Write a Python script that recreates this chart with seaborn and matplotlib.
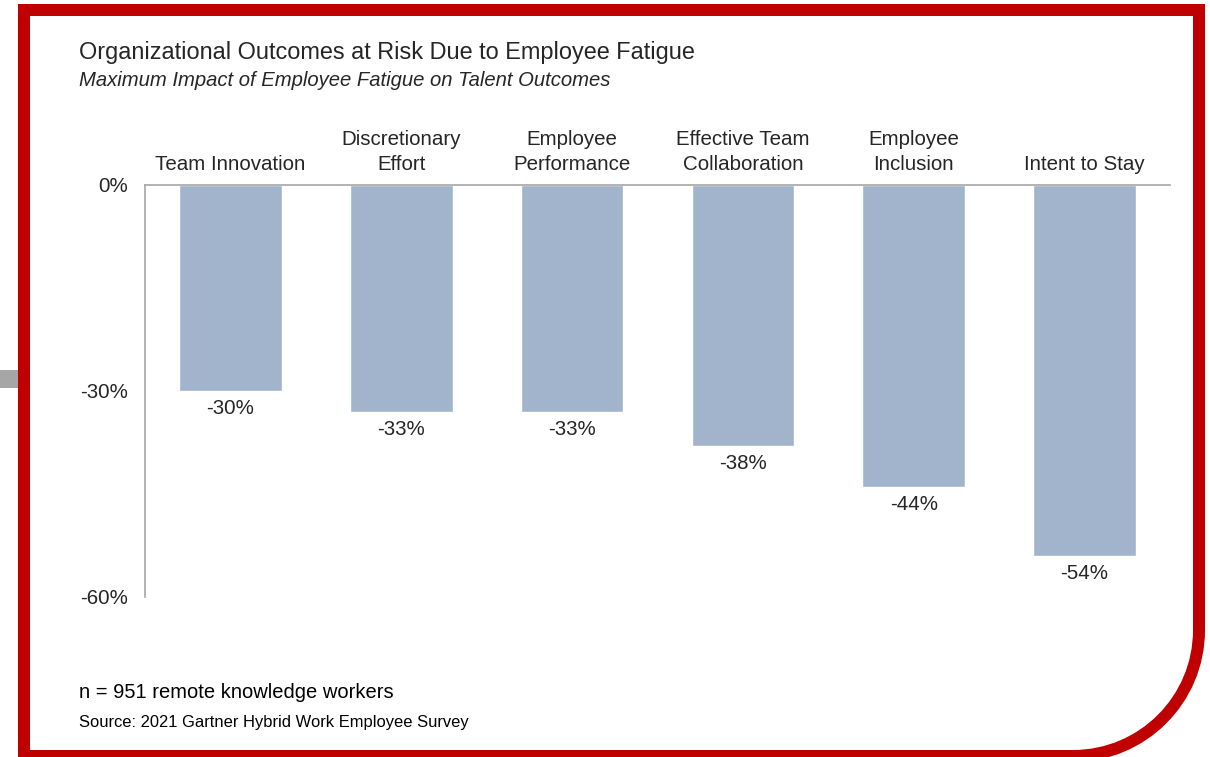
import matplotlib
matplotlib.use("Agg")
import matplotlib.pyplot as plt
import seaborn as sns
import pandas as pd
from matplotlib.path import Path
from matplotlib.patches import PathPatch, Rectangle
from matplotlib.transforms import Affine2D

categories = ["Team Innovation", "Discretionary\nEffort", "Employee\nPerformance",
              "Effective Team\nCollaboration", "Employee\nInclusion", "Intent to Stay"]
values = [-30, -33, -33, -38, -44, -54]
value_labels = ["-30%", "-33%", "-33%", "-38%", "-44%", "-54%"]
y_ticks = [0, -30, -60]
y_tick_labels = ["0%", "-30%", "-60%"]

sns.set_theme(style="white")
plt.rcParams['font.family'] = ['Liberation Sans', 'DejaVu Sans']

W, H = 1210, 757
fig = plt.figure(figsize=(W / 100, H / 100), dpi=100)
fig.patch.set_facecolor("white")

ax = fig.add_axes([145 / W, 1 - 597 / H, (1170 - 145) / W, (597 - 185) / H])
df = pd.DataFrame({"cat": categories, "val": values})
sns.barplot(data=df, x="cat", y="val", color="#A2B4CC", saturation=1, width=0.6, ax=ax)

fs = 14.8
ax.set_xlim(-0.5, 5.5)
ax.set_ylim(-60, 0)
ax.set_xlabel("")
ax.set_ylabel("")
txt = "#262626"
ax.xaxis.tick_top()
ax.tick_params(axis="x", length=0, pad=8, labelsize=fs, labelcolor=txt)
for lbl in ax.get_xticklabels():
    lbl.set_linespacing(1.4)
ax.set_yticks(y_ticks)
ax.set_yticklabels(y_tick_labels)
ax.tick_params(axis="y", length=0, pad=12, labelsize=fs, labelcolor=txt)
for s in ["right", "bottom"]:
    ax.spines[s].set_visible(False)
for s in ["left", "top"]:
    ax.spines[s].set_color("#A6A6A6")
    ax.spines[s].set_linewidth(1.2)
ax.set_facecolor("white")

ax.bar_label(ax.containers[0], labels=value_labels, padding=6, fontsize=fs, color=txt)

# Titles and notes
fig.text(79 / W, 1 - 52 / H, "Organizational Outcomes at Risk Due to Employee Fatigue",
         fontsize=16.9, color=txt, va="center", ha="left")
fig.text(79 / W, 1 - 81 / H, "Maximum Impact of Employee Fatigue on Talent Outcomes",
         fontsize=14.6, style="italic", color=txt, va="center", ha="left")
fig.text(79 / W, 1 - 693 / H, "n = 951 remote knowledge workers",
         fontsize=14.5, color="black", va="center", ha="left")
fig.text(79 / W, 1 - 722 / H, "Source: 2021 Gartner Hybrid Work Employee Survey",
         fontsize=11.9, color="black", va="center", ha="left")

# Frame with rounded bottom-right corner (pixel coordinates)
pix = Affine2D().scale(1 / W, 1 / H) + fig.transFigure
r = 126
k = 0.5523 * r
xl, xr = 24, 1199
yt, yb = H - 10, H - 756
verts = [(xl, yt), (xr, yt), (xr, yb + r),
         (xr, yb + r - k), (xr - r + k, yb), (xr - r, yb),
         (xl, yb), (xl, yt)]
codes = [Path.MOVETO, Path.LINETO, Path.LINETO,
         Path.CURVE4, Path.CURVE4, Path.CURVE4,
         Path.LINETO, Path.CLOSEPOLY]
frame = PathPatch(Path(verts, codes), facecolor="none", edgecolor="#C00000",
                  linewidth=12 * 0.72, transform=pix, joinstyle="miter")
fig.patches.append(frame)
mark = Rectangle((0, H - 388), 18, 18, facecolor="#A6A6A6", edgecolor="none", transform=pix)
fig.patches.append(mark)

fig.savefig("out.png", dpi=100)
